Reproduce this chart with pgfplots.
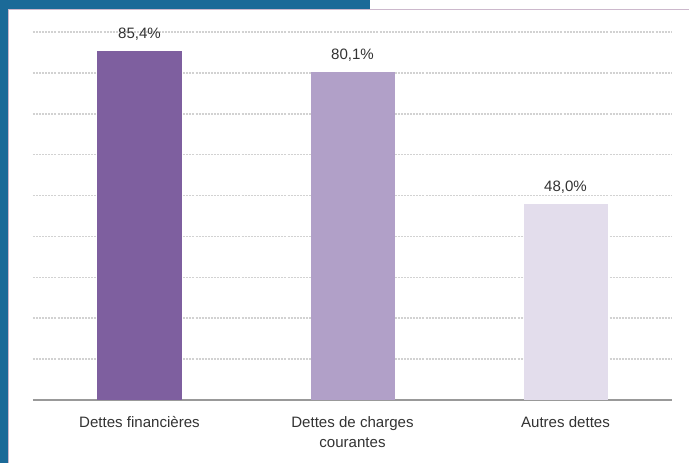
\documentclass[border=0pt]{standalone}
\usepackage{pgfplots}
\pgfplotsset{compat=1.18}
\usepackage{fontspec}
\setmainfont{Liberation Sans}

\definecolor{frameblue}{HTML}{1B6A98}
\definecolor{barA}{HTML}{7E5F9F}
\definecolor{barB}{HTML}{B1A0C8}
\definecolor{barC}{HTML}{E3DDEC}
\definecolor{txt}{HTML}{333333}

\begin{document}
\begin{tikzpicture}[x=0.75pt,y=0.75pt]
% picture is 689 x 463 px, 1px = 0.75pt
\useasboundingbox (0,0) rectangle (689,463);
\fill[white] (0,0) rectangle (689,463);
\fill[frameblue] (0,0) rectangle (8,463);
\fill[frameblue] (0,454) rectangle (370,463);
\draw[gray!60!violet!40, line width=0.8pt] (8.5,0) -- (8.5,453.5) -- (689,453.5);

\begin{axis}[
    at={(24.75pt,47.25pt)}, anchor=south west,
    scale only axis,
    width=479.25pt, height=276pt,
    ybar, bar width=63pt,
    xmin=-0.5, xmax=2.5,
    ymin=0, ymax=90,
    xtick={0,1,2},
    xticklabels={Dettes financières, {Dettes de charges\\courantes}, Autres dettes},
    ytick={10,20,...,90},
    yticklabels={},
    major tick length=0pt,
    ymajorgrids,
    grid style={gray!35, dash pattern=on 1.5pt off 0.8pt, line width=1.2pt},
    axis x line*=bottom,
    axis y line*=left,
    y axis line style={draw=none},
    x axis line style={gray!80, line width=0.8pt, -},
    xticklabel style={font=\fontsize{11.3}{15}\selectfont, text=txt, align=center, yshift=-9pt, anchor=north},
    /pgf/number format/assume math mode=true,
    nodes near coords={\pgfmathprintnumber[fixed, fixed zerofill, precision=1, use comma, assume math mode=true]{\pgfplotspointmeta}\%},
    every node near coord/.append style={font=\fontsize{11.3}{13}\selectfont, text=txt, yshift=4.5pt},
    clip=false,
]
\addplot[draw=none, fill=barA, bar shift=0pt] coordinates {(0,85.4)};
\addplot[draw=none, fill=barB, bar shift=0pt] coordinates {(1,80.1)};
\addplot[draw=none, fill=barC, bar shift=0pt] coordinates {(2,48.0)};
\end{axis}
\end{tikzpicture}
\end{document}
